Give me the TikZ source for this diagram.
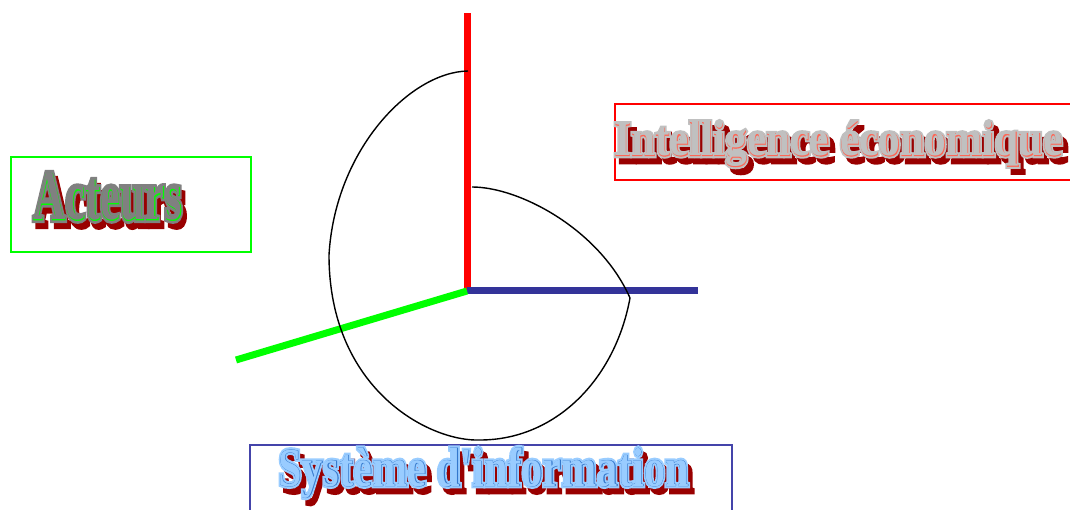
\documentclass[tikz,border=0pt]{standalone}
\usepackage{fontspec}
\usepackage{graphicx}
\setmainfont{Liberation Serif}
\newfontfamily\artfat[UprightFont={* Bold},FakeBold=9]{Liberation Serif}
\newfontfamily\artmid[UprightFont={* Bold},FakeBold=0.8]{Liberation Serif}
\newfontfamily\artplain[UprightFont={* Bold}]{Liberation Serif}
\definecolor{shadowred}{HTML}{990000}
\definecolor{axisblue}{HTML}{333399}
\definecolor{framegreen}{HTML}{00FF00}
\definecolor{framered}{HTML}{FF0000}
\definecolor{frameblue}{HTML}{4444AA}
\definecolor{facegray}{HTML}{808080}
\definecolor{facesilver}{HTML}{C0C0C0}
\definecolor{faceblue}{HTML}{99CCFF}
\definecolor{lineblue}{HTML}{3377CC}
\definecolor{linered}{HTML}{FF6655}
% #1 horizontal scale, #2 face colour, #3 line colour, #4 text
\newcommand{\wordart}[4]{%
  \scalebox{#1}[1]{%
    \rlap{\kern6pt\raisebox{-6pt}{\color{shadowred}\artfat #4}}%
    \rlap{\color{#2}\artfat #4}%
    \rlap{\color{#3}\artmid #4}%
    {\color{#2}\artplain #4}}}

\begin{document}
\begin{tikzpicture}[x=1pt,y=-1pt,
    artlabel/.style={inner sep=0pt, anchor=base west},
    frame/.style={line width=1.3pt},
    axis/.style={line width=7pt}
  ]
  \useasboundingbox (0,0) rectangle (1070,510);
  % frames
  \draw[frame, framegreen] (11,157) rectangle (251,252);
  \draw[frame, framered] (615,104) rectangle (1075,180);
  \draw[frame, frameblue] (250,445) rectangle (732,520);
  % axes
  \coordinate (O) at (467,291);
  \coordinate (top) at (467,13);
  \coordinate (right) at (698,291);
  \coordinate (left) at (236,360);
  \draw[axis, framered] (O) -- (top);
  \draw[axis, axisblue] (O) -- (right);
  \draw[axis, framegreen] (O) -- (left);
  % spiral
  \draw[line width=1.4pt] (472,187) .. controls (520,187) and (600,230) .. (630,298)
    .. controls (615,380) and (555,440) .. (480,440)
    .. controls (430,442) and (329,390) .. (329,255)
    .. controls (335,150) and (410,72) .. (468,71);
  % labels
  \node[artlabel, font=\fontsize{71}{72}\selectfont] (acteurs) at (33,220)
    {\wordart{0.63}{facegray}{framegreen}{Acteurs}};
  \node[artlabel, font=\fontsize{50}{51}\selectfont] (intel) at (614,156)
    {\wordart{0.87}{facesilver}{linered}{Intelligence économique}};
  \node[artlabel, font=\fontsize{55}{56}\selectfont] (sysinfo) at (278,486)
    {\wordart{0.77}{faceblue}{lineblue}{Système d'information}};
\end{tikzpicture}
\end{document}
